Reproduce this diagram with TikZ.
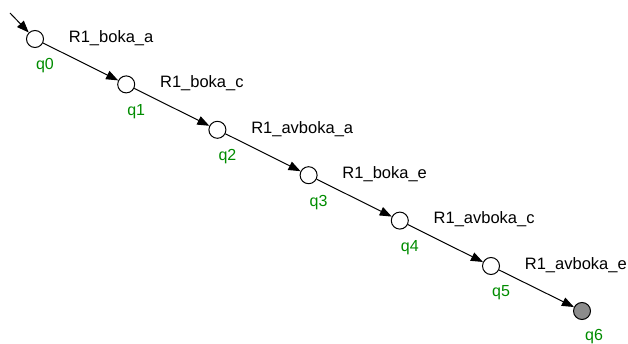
\documentclass[tikz,border=0pt]{standalone}
\usepackage{fontspec}
\setmainfont{Liberation Sans}
\usetikzlibrary{arrows.meta}
\definecolor{qgreen}{RGB}{0,140,0}

\begin{document}
\begin{tikzpicture}[x=1pt, y=-1pt, >={Triangle[length=12pt, width=9pt]},
    state/.style={circle, draw, line width=1pt, fill=white, minimum size=17pt, inner sep=0pt},
    final/.style={state, fill=gray!90},
    trans/.style={->, line width=1pt},
    rule/.style={anchor=west, xshift=22pt, yshift=5pt, font=\fontsize{16.5}{19}\selectfont},
    qname/.style={text=qgreen, font=\fontsize{16}{19}\selectfont}]
    \useasboundingbox (0, 0) rectangle (628, 344);

    % Draw states
    \foreach \i in {0,...,5} {
        \node[state, label={[qname, xshift=10pt, yshift=-27pt]center:q\i}] (q\i) at (35+91.2*\i, 39+45.4*\i) {};
    }
    \node[final, label={[qname, xshift=12pt, yshift=-26pt]center:q6}] (q6) at (582, 311) {};

    % Draw transitions
    \coordinate (start) at (10, 13);
    \draw[trans] (start) -- (q0);
    \draw[trans] (q0) -- node[rule, at start] {R1\_boka\_a} (q1);
    \draw[trans] (q1) -- node[rule, at start] {R1\_boka\_c} (q2);
    \draw[trans] (q2) -- node[rule, at start] {R1\_avboka\_a} (q3);
    \draw[trans] (q3) -- node[rule, at start] {R1\_boka\_e} (q4);
    \draw[trans] (q4) -- node[rule, at start] {R1\_avboka\_c} (q5);
    \draw[trans] (q5) -- node[rule, at start] {R1\_avboka\_e} (q6);
\end{tikzpicture}
\end{document}
